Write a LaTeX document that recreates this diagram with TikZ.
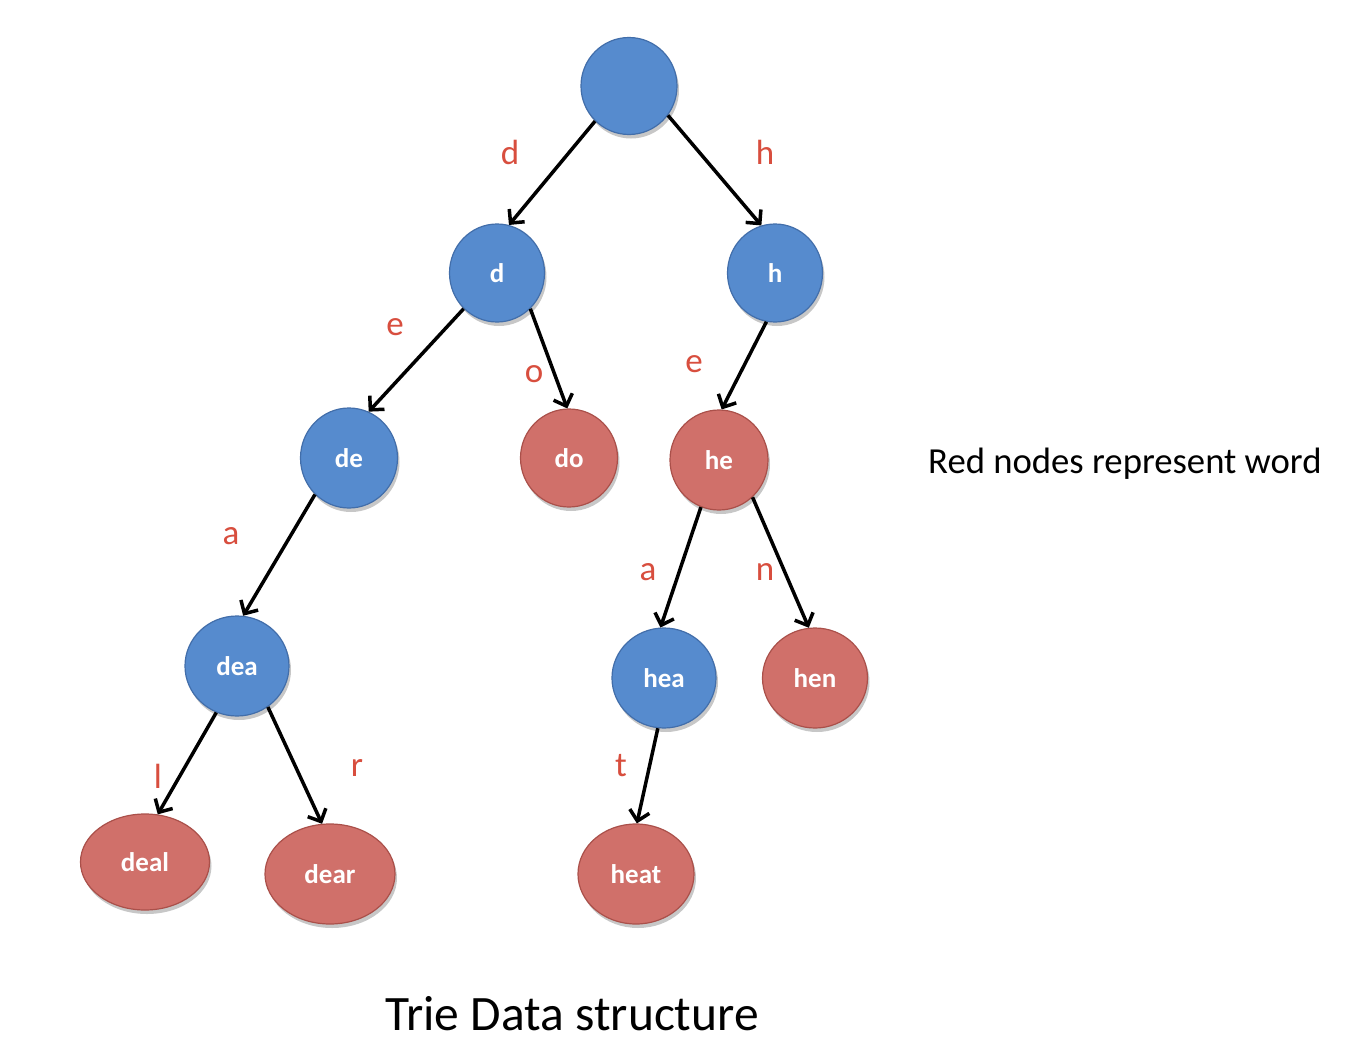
\documentclass[tikz,border=0pt]{standalone}
\usepackage{fontspec}
\setmainfont{Carlito}
\usetikzlibrary{shapes.geometric,arrows.meta,shadows}
\definecolor{nodeblue}{RGB}{86,139,206}
\definecolor{nodeblueedge}{RGB}{66,110,170}
\definecolor{nodered}{RGB}{208,112,106}
\definecolor{noderededge}{RGB}{170,80,74}
\definecolor{labelred}{RGB}{216,78,62}
\tikzset{
  trienode/.style={ellipse, inner sep=0pt, line width=1.2pt, text=white,
    font=\bfseries\fontsize{27}{27}\selectfont,
    drop shadow={shadow xshift=2pt, shadow yshift=-4pt, opacity=0.22, fill=black}},
  prefixnode/.style={trienode, fill=nodeblue, draw=nodeblueedge},
  wordnode/.style={trienode, fill=nodered, draw=noderededge},
  triearrow/.style={line width=3.5pt, -{Straight Barb[length=10pt,width=20pt,line width=3.5pt]}},
  edgeletter/.style={text=labelred, font=\fontsize{35}{35}\selectfont, inner sep=0pt}
}
\begin{document}
\begin{tikzpicture}[x=1pt,y=-1pt]
\useasboundingbox (0,0) rectangle (1366,1060);
\fill[white] (0,0) rectangle (1366,1060);

% prefix nodes
\node[prefixnode, minimum width=96pt, minimum height=97pt] (root) at (629,86) {};
\node[prefixnode, minimum width=95pt, minimum height=98pt] (d) at (497,273) {d};
\node[prefixnode, minimum width=95pt, minimum height=98pt] (h) at (775,273) {h};
\node[prefixnode, minimum width=97pt, minimum height=100pt] (de) at (349,458) {de};
\node[prefixnode, minimum width=104pt, minimum height=100pt] (dea) at (237,666) {dea};
\node[prefixnode, minimum width=104pt, minimum height=100pt] (hea) at (664,678) {hea};

% word nodes
\node[wordnode, minimum width=97pt, minimum height=98pt] (do) at (569,458) {do};
\node[wordnode, minimum width=98pt, minimum height=100pt] (he) at (719,460) {he};
\node[wordnode, minimum width=105pt, minimum height=100pt] (hen) at (815,678) {hen};
\node[wordnode, minimum width=129pt, minimum height=96pt] (deal) at (145,862) {deal};
\node[wordnode, minimum width=130pt, minimum height=100pt] (dear) at (330,874) {dear};
\node[wordnode, minimum width=116pt, minimum height=100pt] (heat) at (636,874) {heat};

% edges
\draw[triearrow] (root.226) -- (d.76);
\draw[triearrow] (root.323) -- (h.106);
\draw[triearrow] (d.227) -- (de.67);
\draw[triearrow] (d.313) -- (do.92);
\draw[triearrow] (h.260) -- (he.87);
\draw[triearrow] (de.227) -- (dea.83);
\draw[triearrow] (he.249) -- (hea.94);
\draw[triearrow] (he.312) -- (hen.97);
\draw[triearrow] (dea.246) -- (deal.75);
\draw[triearrow] (dea.307) -- (dear.99);
\draw[triearrow] (hea.263) -- (heat.89);

% edge letters
\node[edgeletter] (ld) at (510,152) {d};
\node[edgeletter] (lh) at (765,152) {h};
\node[edgeletter] (le1) at (395,327) {e};
\node[edgeletter] (lo) at (534,374) {o};
\node[edgeletter] (le2) at (694,364) {e};
\node[edgeletter] (la1) at (231,536) {a};
\node[edgeletter] (la2) at (648,572) {a};
\node[edgeletter] (ln) at (765,572) {n};
\node[edgeletter] (ll) at (158,776) {l};
\node[edgeletter] (lr) at (357,768) {r};
\node[edgeletter] (lt) at (621,766) {t};

% captions
\node[font=\fontsize{36.7}{36.7}\selectfont, anchor=west, inner sep=0pt] (note) at (928,464) {Red nodes represent word};
\node[font=\fontsize{49.5}{49.5}\selectfont, inner sep=0pt] (title) at (572,1014) {Trie Data structure};
\end{tikzpicture}
\end{document}
